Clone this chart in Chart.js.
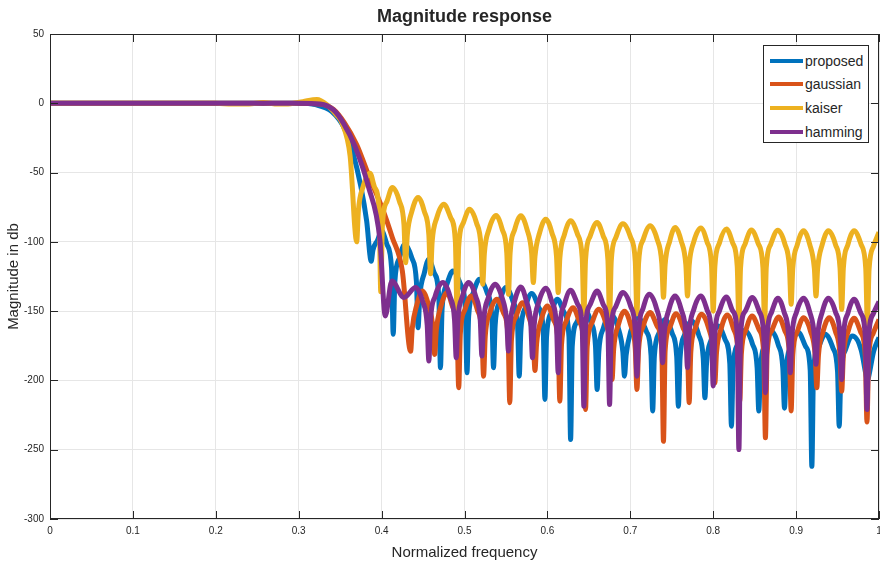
<!DOCTYPE html>
<html>
<head>
<meta charset="utf-8">
<title>Magnitude response</title>
<script src="https://cdn.jsdelivr.net/npm/chart.js@4.4.0/dist/chart.umd.min.js"></script>
<style>
  html, body { margin: 0; padding: 0; background: #fff; }
  #wrap { position: relative; width: 880px; height: 562px; font-family: "Liberation Sans", Arial, sans-serif; color: #262626; }
  #title { position: absolute; left: 50px; width: 829px; top: 6px; text-align: center; font-weight: bold; font-size: 18px; }
  #legend { position: absolute; left: 763px; top: 45px; width: 106px; height: 98px; border: 1px solid #262626; background: #fff; box-sizing: border-box; padding-top: 3px; }
  .item { display: flex; align-items: center; height: 23.6px; font-size: 14px; }
  .swatch { width: 33px; height: 4px; margin: 0 2px 0 6px; }
</style>
</head>
<body>
<div id="wrap">
  <canvas id="magChart" width="880" height="562"></canvas>
  <div id="title">Magnitude response</div>
  <div id="legend"></div>
</div>
<script>
// values (normalized frequency, dB)
// one sidelobe per row: leg, shoulder, peak, shoulder, leg, null
const seriesNames = ['proposed', 'gaussian', 'kaiser', 'hamming'];
const seriesColors = ['#0072BD', '#D95319', '#EDB120', '#7E2F8E'];

const proposedFreq = [0, 0.1, 0.2, 0.3, 0.32, 0.34, 0.355, 0.365, 0.375, 0.382, 0.3875,
    0.3895, 0.395, 0.400, 0.4065, 0.412, 0.414,
    0.416, 0.4215, 0.428, 0.4365, 0.442, 0.444,
    0.446, 0.4515, 0.457, 0.4635, 0.469, 0.471,
    0.473, 0.4785, 0.486, 0.4955, 0.501, 0.503,
    0.505, 0.5105, 0.518, 0.5275, 0.533, 0.535,
    0.537, 0.5425, 0.550, 0.5585, 0.564, 0.566,
    0.568, 0.5735, 0.581, 0.5895, 0.595, 0.597,
    0.599, 0.6045, 0.612, 0.6205, 0.626, 0.628,
    0.630, 0.6355, 0.644, 0.6525, 0.658, 0.660,
    0.662, 0.6675, 0.676, 0.6855, 0.691, 0.693,
    0.695, 0.7005, 0.709, 0.7195, 0.725, 0.727,
    0.729, 0.7345, 0.742, 0.7505, 0.756, 0.758,
    0.760, 0.7655, 0.774, 0.7825, 0.788, 0.790,
    0.792, 0.7975, 0.806, 0.8145, 0.820, 0.822,
    0.824, 0.8295, 0.838, 0.8475, 0.853, 0.855,
    0.857, 0.8625, 0.870, 0.8785, 0.884, 0.886,
    0.888, 0.8935, 0.903, 0.9115, 0.917, 0.919,
    0.921, 0.9265, 0.935, 0.9445, 0.950, 0.952,
    0.954, 0.9595, 0.968, 0.9785, 0.984, 0.986,
    0.988, 0.9935, 1.0];
const proposedMag = [0, 0, 0, 0, -1, -6, -18, -35, -60, -85, -114,
    -106, -99, -92, -102, -119, -166.7,
    -128.7, -111.7, -101.7, -111.7, -128.7, -162,
    -139.5, -122.5, -112.5, -122.5, -139.5, -190.8,
    -148, -131, -121, -131, -148, -194.5,
    -154, -137, -127, -137, -154, -190.8,
    -160, -143, -133, -143, -160, -196.9,
    -164.3, -147.3, -137.3, -147.3, -164.3, -213.7,
    -168.4, -151.4, -141.4, -151.4, -168.4, -242.6,
    -175, -158, -148, -158, -175, -206.5,
    -179.3, -162.3, -152.3, -162.3, -179.3, -196.9,
    -181.7, -164.7, -154.7, -164.7, -181.7, -222,
    -183, -166, -156, -166, -183, -218.6,
    -184.1, -167.1, -157.1, -167.1, -184.1, -212.5,
    -187.7, -170.7, -160.7, -170.7, -187.7, -233,
    -191, -174, -164, -174, -191, -222,
    -191.3, -174.3, -164.3, -174.3, -191.3, -220,
    -192.5, -175.5, -165.5, -175.5, -192.5, -262,
    -193.7, -176.7, -166.7, -176.7, -193.7, -233,
    -195, -178, -168, -178, -195, -200,
    -196, -179, -169];

const gaussianFreq = [0, 0.1, 0.2, 0.3, 0.326, 0.342, 0.355, 0.37, 0.385, 0.401, 0.413, 0.425, 0.435,
    0.437, 0.4425, 0.449, 0.4565, 0.462, 0.464,
    0.466, 0.4715, 0.479, 0.4855, 0.491, 0.493,
    0.495, 0.5005, 0.508, 0.5155, 0.521, 0.523,
    0.525, 0.5305, 0.539, 0.5471, 0.5526, 0.5546,
    0.5566, 0.5621, 0.570, 0.5775, 0.583, 0.585,
    0.587, 0.5925, 0.600, 0.6075, 0.613, 0.615,
    0.617, 0.6225, 0.631, 0.6385, 0.644, 0.646,
    0.648, 0.6535, 0.662, 0.6705, 0.676, 0.678,
    0.680, 0.6855, 0.693, 0.7005, 0.706, 0.708,
    0.710, 0.7155, 0.724, 0.7325, 0.738, 0.740,
    0.742, 0.7475, 0.755, 0.7635, 0.769, 0.771,
    0.773, 0.7785, 0.786, 0.7945, 0.800, 0.802,
    0.804, 0.8095, 0.817, 0.8245, 0.830, 0.832,
    0.834, 0.8395, 0.847, 0.8555, 0.861, 0.863,
    0.865, 0.8705, 0.879, 0.8865, 0.892, 0.894,
    0.896, 0.9015, 0.909, 0.9175, 0.923, 0.925,
    0.927, 0.9325, 0.940, 0.9475, 0.953, 0.955,
    0.957, 0.9625, 0.970, 0.978, 0.9835, 0.9855,
    0.9875, 0.993, 1.0];
const gaussianMag = [0, 0, 0, 0, -0.5, -4.5, -14, -30, -53, -76, -97, -121, -179,
    -162.4, -145.4, -135.4, -145.4, -162.4, -181.2,
    -163.6, -146.6, -136.6, -146.6, -163.6, -205.3,
    -166, -149, -139, -149, -166, -196.9,
    -168.4, -151.4, -141.4, -151.4, -168.4, -216.1,
    -170.9, -153.9, -143.9, -153.9, -170.9, -192.8,
    -173.3, -156.3, -146.3, -156.3, -173.3, -215,
    -174.5, -157.5, -147.5, -157.5, -174.5, -221,
    -175.7, -158.7, -148.7, -158.7, -175.7, -199.3,
    -177, -160, -150, -160, -177, -206.5,
    -178, -161, -151, -161, -178, -243.9,
    -178.8, -161.8, -151.8, -161.8, -178.8, -216.1,
    -179.3, -162.3, -152.3, -162.3, -179.3, -201.7,
    -179.8, -162.8, -152.8, -162.8, -179.8, -215,
    -180.5, -163.5, -153.5, -163.5, -180.5, -241.4,
    -181.2, -164.2, -154.2, -164.2, -181.2, -222,
    -181.7, -164.7, -154.7, -164.7, -181.7, -205.3,
    -181.7, -164.7, -154.7, -164.7, -181.7, -207.7,
    -182.2, -165.2, -155.2, -165.2, -182.2, -230,
    -183, -166, -156];

const kaiserFreq = [0, 0.1, 0.2, 0.22, 0.24, 0.257, 0.275, 0.29, 0.305, 0.322, 0.334, 0.345, 0.352, 0.362, 0.370,
    0.372, 0.3775, 0.386, 0.3915, 0.397, 0.399,
    0.401, 0.4065, 0.413, 0.4215, 0.427, 0.429,
    0.431, 0.4365, 0.444, 0.4515, 0.457, 0.459,
    0.461, 0.4665, 0.475, 0.4835, 0.489, 0.491,
    0.493, 0.4985, 0.506, 0.5145, 0.520, 0.522,
    0.524, 0.5295, 0.538, 0.5455, 0.551, 0.553,
    0.555, 0.5605, 0.568, 0.5755, 0.581, 0.583,
    0.585, 0.5905, 0.598, 0.6055, 0.611, 0.613,
    0.615, 0.6205, 0.628, 0.6365, 0.642, 0.644,
    0.646, 0.6515, 0.660, 0.6675, 0.673, 0.675,
    0.677, 0.6825, 0.691, 0.7005, 0.706, 0.708,
    0.710, 0.7155, 0.724, 0.7325, 0.738, 0.740,
    0.742, 0.7475, 0.754, 0.7615, 0.767, 0.769,
    0.771, 0.7765, 0.785, 0.7925, 0.798, 0.800,
    0.802, 0.8075, 0.816, 0.8235, 0.829, 0.831,
    0.833, 0.8385, 0.846, 0.8545, 0.860, 0.862,
    0.864, 0.8695, 0.878, 0.8865, 0.892, 0.894,
    0.896, 0.9015, 0.909, 0.9165, 0.922, 0.924,
    0.926, 0.9315, 0.939, 0.9475, 0.953, 0.955,
    0.957, 0.9625, 0.970, 0.9785, 0.984, 0.986,
    0.988, 0.9935, 1.0];
const kaiserMag = [0, 0, 0, -0.6, -0.5, 0.6, -0.6, -0.3, 1.2, 2.7, -1, -8, -14, -38, -100,
    -77.5, -60.5, -50.5, -60.5, -77.5, -136,
    -87.7, -70.7, -60.7, -70.7, -87.7, -115,
    -95, -78, -68, -78, -95, -123,
    -99.8, -82.8, -72.8, -82.8, -99.8, -151,
    -103.4, -86.4, -76.4, -86.4, -103.4, -130.6,
    -108, -91, -81, -91, -108, -137.8,
    -108.2, -91.2, -81.2, -91.2, -108.2, -129.4,
    -110.6, -93.6, -83.6, -93.6, -110.6, -136.6,
    -111.8, -94.8, -84.8, -94.8, -111.8, -152,
    -113, -96, -86, -96, -113, -155,
    -114, -97, -87, -97, -114, -152,
    -115.4, -98.4, -88.4, -98.4, -115.4, -140,
    -116.6, -99.6, -89.6, -99.6, -116.6, -139,
    -117, -100, -90, -100, -117, -150,
    -117.8, -100.8, -90.8, -100.8, -117.8, -158,
    -118.5, -101.5, -91.5, -101.5, -118.5, -160,
    -118.6, -101.6, -91.6, -101.6, -118.6, -145,
    -119, -102, -92, -102, -119, -139,
    -119, -102, -92, -102, -119, -148.7,
    -119, -102, -92, -102, -119, -159,
    -120, -103, -93];

const hammingFreq = [0, 0.1, 0.2, 0.3, 0.326, 0.342, 0.354, 0.368, 0.384, 0.398, 0.4044, 0.4124, 0.427, 0.441, 0.4495, 0.455, 0.457,
    0.459, 0.4645, 0.474, 0.4825, 0.488, 0.490,
    0.492, 0.4975, 0.505, 0.5135, 0.519, 0.521,
    0.523, 0.5285, 0.537, 0.5455, 0.551, 0.553,
    0.555, 0.5605, 0.568, 0.5745, 0.580, 0.582,
    0.584, 0.5895, 0.598, 0.6055, 0.611, 0.613,
    0.615, 0.6205, 0.628, 0.6365, 0.642, 0.644,
    0.646, 0.6515, 0.660, 0.6675, 0.673, 0.675,
    0.677, 0.6825, 0.691, 0.7005, 0.706, 0.708,
    0.710, 0.7155, 0.723, 0.7315, 0.737, 0.739,
    0.741, 0.7465, 0.754, 0.7615, 0.767, 0.769,
    0.771, 0.7765, 0.785, 0.7925, 0.798, 0.800,
    0.802, 0.8075, 0.816, 0.8235, 0.829, 0.831,
    0.833, 0.8385, 0.847, 0.8555, 0.861, 0.863,
    0.865, 0.8705, 0.878, 0.8855, 0.891, 0.893,
    0.895, 0.9005, 0.909, 0.9165, 0.922, 0.924,
    0.926, 0.9315, 0.939, 0.9475, 0.953, 0.955,
    0.957, 0.9625, 0.970, 0.978, 0.9835, 0.9855,
    0.9875, 0.993, 1.0];
const hammingMag = [0, 0, 0, 0, -0.5, -4.8, -14.4, -31.3, -60, -98.7, -153.5, -128.2, -140.2, -133, -143, -160, -186,
    -156.4, -139.4, -129.4, -139.4, -156.4, -183.6,
    -156.4, -139.4, -129.4, -139.4, -156.4, -182.4,
    -157.6, -140.6, -130.6, -140.6, -157.6, -178.8,
    -159.5, -142.5, -132.5, -142.5, -159.5, -183.6,
    -160.5, -143.5, -133.5, -143.5, -160.5, -194.5,
    -162, -145, -135, -145, -162, -218.6,
    -162.4, -145.4, -135.4, -145.4, -162.4, -217.3,
    -163.6, -146.6, -136.6, -146.6, -163.6, -196.9,
    -164.8, -147.8, -137.8, -147.8, -164.8, -187.2,
    -166, -149, -139, -149, -166, -190.8,
    -166, -149, -139, -149, -166, -204,
    -166.8, -149.8, -139.8, -149.8, -166.8, -249.9,
    -167.2, -150.2, -140.2, -150.2, -167.2, -208.9,
    -167.7, -150.7, -140.7, -150.7, -167.7, -194.5,
    -167.7, -150.7, -140.7, -150.7, -167.7, -188.4,
    -167.7, -150.7, -140.7, -150.7, -167.7, -199.3,
    -168.4, -151.4, -141.4, -151.4, -168.4, -221,
    -169, -152, -143];

const xTickLabels = ['0', '0.1', '0.2', '0.3', '0.4', '0.5', '0.6', '0.7', '0.8', '0.9', '1'];
const yTickLabels = ['-300', '-250', '-200', '-150', '-100', '-50', '0', '50'];

function toPoints(fr, mag) {
    return fr.map((f, i) => ({ x: f, y: mag[i] }));
}

const allFreq = [proposedFreq, gaussianFreq, kaiserFreq, hammingFreq];
const allMag = [proposedMag, gaussianMag, kaiserMag, hammingMag];

// later series sit on top, like the matlab plot order
const datasets = seriesNames.map((name, i) => ({
    label: name,
    data: toPoints(allFreq[i], allMag[i]),
    borderColor: seriesColors[i],
    backgroundColor: seriesColors[i],
    borderWidth: 5,
    pointRadius: 0,
    cubicInterpolationMode: 'monotone',
    order: seriesNames.length - i
}));

// box round the plot with inward ticks on all four sides
const axesBox = {
    id: 'axesBox',
    afterDatasetsDraw(chart) {
        const { ctx, chartArea: a, scales } = chart;
        const len = 8;
        ctx.save();
        ctx.strokeStyle = '#262626';
        ctx.lineWidth = 1;
        ctx.strokeRect(a.left + 0.5, a.top + 0.5, a.right - a.left - 1, a.bottom - a.top - 1);
        ctx.beginPath();
        scales.x.ticks.forEach(t => {
            const px = Math.round(scales.x.getPixelForValue(t.value)) + 0.5;
            ctx.moveTo(px, a.bottom); ctx.lineTo(px, a.bottom - len);
            ctx.moveTo(px, a.top); ctx.lineTo(px, a.top + len);
        });
        scales.y.ticks.forEach(t => {
            const py = Math.round(scales.y.getPixelForValue(t.value)) + 0.5;
            ctx.moveTo(a.left, py); ctx.lineTo(a.left + len, py);
            ctx.moveTo(a.right, py); ctx.lineTo(a.right - len, py);
        });
        ctx.stroke();
        ctx.restore();
    }
};

const tickFont = { family: '"Liberation Sans", Arial, sans-serif', size: 10 };
const titleFont = { family: '"Liberation Sans", Arial, sans-serif', size: 15 };

new Chart(document.getElementById('magChart').getContext('2d'), {
    type: 'line',
    data: { datasets: datasets },
    options: {
        responsive: false,
        animation: false,
        layout: { padding: { top: 34, right: 1, bottom: 0, left: 0 } },
        plugins: {
            legend: { display: false },
            tooltip: { enabled: false },
            title: { display: false }
        },
        scales: {
            x: {
                type: 'linear',
                min: 0,
                max: 1,
                ticks: {
                    stepSize: 0.1,
                    autoSkip: false,
                    maxRotation: 0,
                    padding: 6,
                    color: '#262626',
                    font: tickFont,
                    callback: (v, i) => xTickLabels[i]
                },
                grid: { color: '#e6e6e6', drawTicks: false },
                border: { display: false },
                title: { display: true, text: 'Normalized frequency', color: '#262626', font: titleFont, padding: { top: 0, bottom: 0 } },
                afterFit(s) { s.height = 43; s.paddingLeft = 0; s.paddingRight = 0; }
            },
            y: {
                type: 'linear',
                min: -300,
                max: 50,
                ticks: {
                    stepSize: 50,
                    padding: 6,
                    color: '#262626',
                    font: tickFont,
                    callback: (v, i) => yTickLabels[i]
                },
                grid: { color: '#e6e6e6', drawTicks: false },
                border: { display: false },
                title: { display: true, text: 'Magnitude in db', color: '#262626', font: titleFont, padding: { top: 5, bottom: 0 } },
                afterFit(s) { s.width = 50; s.paddingTop = 0; s.paddingBottom = 0; }
            }
        }
    },
    plugins: [axesBox]
});

// legend box inside the axes, top right
const legendBox = document.getElementById('legend');
seriesNames.forEach((name, i) => {
    const row = document.createElement('div');
    row.className = 'item';
    const sw = document.createElement('span');
    sw.className = 'swatch';
    sw.style.background = seriesColors[i];
    row.appendChild(sw);
    row.appendChild(document.createTextNode(name));
    legendBox.appendChild(row);
});
</script>
</body>
</html>
